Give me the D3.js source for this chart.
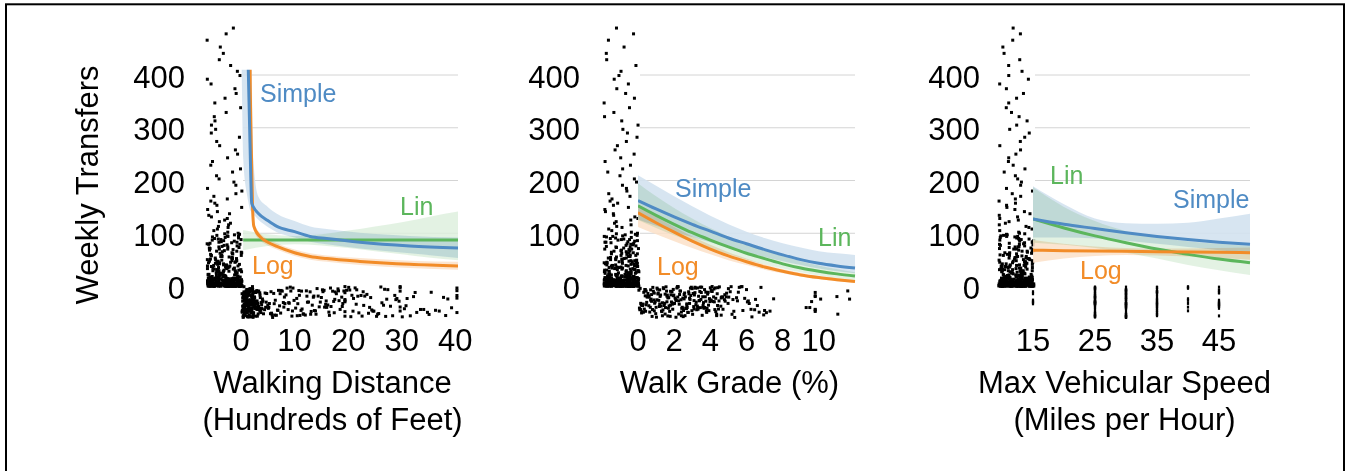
<!DOCTYPE html>
<html><head><meta charset="utf-8">
<script src="https://cdn.jsdelivr.net/npm/d3@7"></script>
<style>
html,body{margin:0;padding:0;background:#fff;}
svg{display:block;font-family:"Liberation Sans",Arial,Helvetica,sans-serif;}
</style></head><body>
<svg id="chart" width="1347" height="471"></svg>
<script>
// ---------------- DATA ----------------
const yTickValues = [0, 100, 200, 300, 400];

// marginal observations: weekly transfers (left strips)
const weeklyTransfers = [
  0,0,0,0,0,0,0,0,0,0,0,0,0,0,0,0,0,0,0,0,0,0,0,0,0,0,
  1,1,1,1,1,1,1,1,1,2,2,2,2,2,2,2,2,2,3,3,3,3,3,3,3,3,
  4,4,4,4,4,4,4,5,5,5,5,5,5,5,6,6,6,6,6,6,7,7,7,7,7,7,
  8,8,8,8,8,9,9,9,9,9,10,10,10,10,10,11,11,11,11,12,12,12,12,13,13,13,14,14,14,15,15,15,16,16,17,17,
  18,18,19,19,20,20,21,21,22,22,23,24,24,25,25,26,27,27,28,29,29,30,31,31,32,33,34,34,35,36,37,38,38,39,40,41,42,43,44,44,45,46,47,48,49,50,
  51,52,53,55,56,57,58,60,61,62,63,65,66,67,69,70,71,73,74,76,77,79,80,82,83,85,86,88,89,91,92,94,95,97,98,100,
  0,0,0,0,0,0,0,0,0,0,1,1,1,2,2,2,3,3,3,4,4,5,5,6,6,7,7,8,8,9,10,11,12,13,14,15,16,18,20,22,23,26,28,30,32,33,35,37,39,41,43,45,47,52,54,59,64,68,72,75,78,81,84,87,90,93,96,99,
  0,0,0,0,0,0,0,0,0,0,0,0,0,0,0,1,1,1,1,1,1,2,2,2,2,2,2,3,3,3,3,3,3,4,4,4,4,4,5,5,5,5,5,6,6,6,6,6,
  7,7,7,7,8,8,8,8,9,9,9,9,10,10,10,10,11,11,11,12,12,12,13,13,13,14,14,14,15,15,15,16,16,17,17,
  19,21,23,25,27,29,31,34,36,38,40,42,46,48,50,53,56,58,61,63,66,70,74,79,83,88,94,
  102,105,108,111,113,116,119,122,125,128,131,134,137,141,145,149,153,157,161,165,170,175,180,185,191,197,
  203,209,216,222,229,236,243,250,258,266,274,282,290,297,
  305,313,321,329,338,347,356,365,374,383,392,399,
  407,418,429,441,453,466,478,489
];

// marginal observations: walking distance (hundreds of feet)
const walkDistance = [
  0.2,0.24,0.3,0.33,0.4,0.44,0.5,0.56,0.6,0.63,0.7,0.75,0.8,0.84,0.9,0.96,1.0,1.05,1.1,1.13,1.2,1.26,1.3,1.34,1.4,1.47,1.5,1.55,1.6,1.66,1.7,1.73,1.8,1.86,1.9,1.94,2.0,2.06,2.1,2.15,2.2,2.27,2.3,2.36,2.4,2.45,2.5,2.57,2.6,2.66,2.7,2.8,2.9,3.0,3.1,3.2,3.3,3.45,3.5,3.6,3.7,3.85,3.9,4.0,
  0.35,0.65,0.95,1.25,1.45,1.75,2.05,2.35,0.55,1.15,1.65,2.25,0.28,0.48,0.78,0.88,1.08,1.38,1.58,1.78,1.98,2.18,2.48,2.68,
  0.42,0.72,1.02,1.32,1.62,1.92,2.12,2.42,2.62,2.85,3.05,3.25,
  0.22,0.31,0.37,0.46,0.52,0.58,0.67,0.71,0.82,0.86,0.93,0.98,1.03,1.07,1.17,1.22,1.28,1.36,1.42,1.52,1.57,1.68,1.72,1.83,1.88,1.96,2.02,2.08,2.14,2.23,2.32,2.38,2.52,2.55,2.75,2.95,3.15,3.35,3.55,3.75,3.95,
  0.26,0.39,0.53,0.61,0.69,0.77,0.91,1.01,1.11,1.19,1.31,1.39,1.49,1.61,1.69,1.81,1.91,2.01,2.11,2.21,2.31,2.41,2.51,2.61,2.71,2.91,3.11,3.31,3.51,3.71,
  4.2,4.5,4.8,5.0,5.3,5.5,5.9,6.1,6.4,6.8,7.0,7.3,7.7,8.0,8.2,8.6,9.0,9.3,9.5,9.9,
  10.2,10.5,10.8,11.0,11.4,11.7,12.0,12.3,12.6,13.0,13.3,13.5,13.9,14.2,14.6,15.0,15.3,15.5,15.9,16.2,16.5,16.8,17.1,17.5,17.8,18.1,18.5,18.8,19.2,
  19.4,19.4,19.4,19.4,19.4,19.7,20.1,20.5,20.9,21.3,21.6,22.0,22.4,22.8,23.1,23.5,24.0,24.4,24.8,25.3,25.7,26.1,26.6,27.0,27.4,27.9,28.3,28.7,29.1,29.5,
  29.7,29.7,29.7,30.1,30.5,31.0,31.6,32.2,32.8,33.5,34.1,34.8,35.5,36.3,37.0,37.8,38.6,39.3,
  5.6,7.5,8.8,11.2,13.7,16.0,17.3,21.0,23.8,26.3,
  4.4,4.7,5.2,5.8,6.3,6.6,7.2,7.9,8.4,9.2,9.7,10.4,10.9,11.6,12.2,12.9,13.6,14.4,15.2,15.8,16.7,17.6,18.3,19.0,20.3,21.8,22.6,24.2,25.5,27.2,28.9,30.8,32.5,35.1,38.2,
  4.1,4.6,5.1,5.7,6.2,6.9,7.4,8.1,8.9,9.6,10.6,11.3,12.4,13.1,14.0,14.8,15.6,16.4,17.4,18.2,18.9,19.4,19.4,20.7,21.5,22.9,24.6,26.8,29.7,29.7,
  40.3,40.3,40.3,40.3,40.3
];

// marginal observations: walk grade (%)
const walkGrade = [
  0.05,0.1,0.15,0.2,0.25,0.3,0.35,0.4,0.45,0.5,0.55,0.6,0.65,0.7,0.75,0.8,0.85,0.9,0.95,1.0,
  1.05,1.1,1.15,1.2,1.25,1.3,1.35,1.4,1.45,1.5,1.55,1.6,1.65,1.7,1.75,1.8,1.85,1.9,1.95,2.0,
  2.05,2.1,2.15,2.2,2.25,2.3,2.35,2.4,2.45,2.5,2.55,2.6,2.65,2.7,2.75,2.8,2.85,2.9,2.95,3.0,
  3.05,3.1,3.15,3.2,3.25,3.3,3.35,3.4,3.45,3.5,3.55,3.6,3.65,3.7,3.75,3.8,3.85,3.9,3.95,4.0,
  4.05,4.1,4.15,4.2,4.25,4.3,4.35,4.4,4.45,4.5,4.6,4.7,4.8,4.9,5.0,5.1,5.2,
  0.4,1.2,1.8,2.2,2.7,3.3,4.1,4.6,0.7,1.5,2.4,3.6,4.3,0.9,1.6,2.5,3.1,
  0.12,0.22,0.32,0.42,0.52,0.62,0.72,0.82,0.92,1.02,1.12,1.22,1.32,1.42,1.52,1.62,1.72,1.82,1.92,2.02,
  2.12,2.22,2.32,2.42,2.52,2.62,2.72,2.82,2.92,3.02,3.12,3.22,3.32,3.42,3.52,3.62,3.72,3.82,3.92,4.02,
  4.22,4.42,4.62,4.82,5.02,5.25,5.45,5.8,6.1,6.5,
  0.08,0.18,0.28,0.38,0.48,0.58,0.68,0.78,0.88,0.98,1.08,1.18,1.28,1.38,1.48,1.58,1.68,1.78,1.88,1.98,
  2.08,2.18,2.28,2.38,2.48,2.58,2.68,2.78,2.88,2.98,3.08,3.18,3.28,3.38,3.48,3.58,3.68,3.78,3.88,3.98,
  4.08,4.18,4.28,4.38,4.48,4.58,4.68,4.78,4.88,4.98,5.15,5.3,5.55,5.7,6.05,6.25,6.7,7.0,
  0.15,0.45,0.75,1.05,1.35,1.65,1.95,2.25,2.55,2.85,3.15,3.45,3.75,4.05,4.35,
  5.35,5.5,5.6,5.75,5.9,6.0,6.15,6.3,6.45,6.6,6.8,6.95,7.1,7.3,7.5,
  9.3,9.5,9.6,9.8,9.8,9.8,9.8,9.8,9.8,10.1,
  11.0,11.05,11.6,11.7
];

// marginal observations: max vehicular speed (mph)
const speedLevels = [15, 25, 30, 35, 40, 45];
const speedCounts = [6, 50, 50, 28, 8, 16];

// ---- fitted curves, panel 1: walking distance ----
const distSimpleX  = [0.13, 0.43, 1.06, 1.36, 1.68, 2.0, 2.3, 3.2, 5, 6.7, 10, 12.9, 16, 22.2, 31.5, 40.5];
const distSimple   = [900, 800, 560, 410, 271, 157, 150, 138, 124, 113, 103, 94, 90, 83, 76, 72];
const distSimpleHi = [1200, 1100, 1000, 900, 700, 410, 240, 170, 150, 137, 123, 113, 108, 101, 95, 92];
const distSimpleLo = [410, 240, 177, 160, 144, 140, 136, 126, 112, 102, 92, 84, 79, 71, 62, 53];

const distLinX  = [0.4, 5, 10, 15, 20, 25, 30, 35, 40.5];
const distLin   = [87, 87, 87, 87, 87, 87, 87, 87, 87];
const distLinHi = [106, 98, 95, 98, 105, 113, 121, 131, 141];
const distLinLo = [68, 76, 79, 77, 72, 66, 60, 54, 49];

const distLogX  = [1.5, 1.7, 1.95, 2.15, 2.4, 3.5, 5, 6.7, 10, 12.9, 16, 22.2, 31.5, 40.5];
const distLog   = [700, 410, 250, 151, 113, 94, 83, 75, 63, 56, 52, 46.6, 41, 38];
const distLogHi = [800, 500, 290, 170, 122, 101, 89, 81, 69, 62, 58, 53, 48, 46];
const distLogLo = [600, 360, 215, 135, 105, 87, 77, 69, 57, 50, 46, 40, 34, 31];

// ---- fitted curves, panel 2: walk grade ----
const gradeX        = [0, 1, 2, 3, 4, 5, 6, 7, 8, 9, 10, 11, 12];
const gradeSimple   = [162, 146, 131, 117, 104, 91, 80, 69, 59, 50, 43, 38, 34];
const gradeSimpleHi = [210, 190, 170, 151, 133, 117, 103, 91, 81, 73, 66, 62, 59];
const gradeSimpleLo = [126, 114, 103, 93, 83, 73, 64, 55, 47, 40, 33, 28, 24];
const gradeLin      = [152, 134, 117, 101, 87, 74, 62, 52, 42, 34, 28, 23, 19];
const gradeLinHi    = [195, 170, 148, 128, 110, 94, 80, 68, 57, 47, 39, 32, 26];
const gradeLinLo    = [125, 110, 96, 83, 71, 60, 50, 41, 33, 26, 20, 15, 11];
const gradeLog      = [139, 120, 102, 85, 70, 57, 46, 36, 28, 21, 16, 12, 8.5];
const gradeLogHi    = [152, 131, 112, 94, 78, 64, 52, 41, 32, 25, 19, 15, 11];
const gradeLogLo    = [112, 98, 85, 72, 60, 49, 40, 31, 24, 18, 13, 9, 6];

// ---- fitted curves, panel 3: max vehicular speed ----
const speedX        = [15, 20, 25, 30, 35, 40, 45, 50];
const speedSimple   = [127, 117, 109, 101, 94, 88, 83, 79];
const speedSimpleHi = [189, 155, 128, 119, 118, 120, 128, 137];
const speedSimpleLo = [92, 92, 90, 86, 80, 74, 68, 62];
const speedLin      = [127, 110, 95, 82, 70, 60, 51, 44];
const speedLinHi    = [187, 150, 123, 104, 92, 85, 80, 76];
const speedLinLo    = [82, 78, 72, 63, 52, 40, 30, 21];
const speedLog      = [68, 67, 66.5, 66, 65, 64.5, 64, 63];
const speedLogHi    = [87, 80, 75, 72, 71, 71, 72, 73];
const speedLogLo    = [44, 52, 57, 59, 58, 56, 53, 50];

// axis text
const seriesNames = ["Simple", "Lin", "Log"];
const xLabels = [
  ["Walking Distance", "(Hundreds of Feet)"],
  ["Walk Grade (%)"],
  ["Max Vehicular Speed", "(Miles per Hour)"]
];
const xTicks = [[0, 10, 20, 30, 40], [0, 2, 4, 6, 8, 10], [15, 25, 35, 45]];
const xDomains = [[0, 40.5], [0, 12], [15, 50]];
const yLabel = "Weekly Transfers";

// ---------------- STYLE / LAYOUT ----------------
const colors = { Simple: "#4f8bc4", Lin: "#5cb65c", Log: "#f28c28" };
const bandFill = { Simple: "#d3e2f0", Lin: "#dcefdc", Log: "#fce1c8" };
const bandOpacity = { Simple: 0.9, Lin: 0.8, Log: 0.85 };
const layout = [
  { x0: 241, x1: 458, tickRight: 185,
    labels: { Simple: [260, 102], Lin: [400, 215], Log: [252, 274] } },
  { x0: 638, x1: 855, tickRight: 580,
    labels: { Simple: [675, 197], Lin: [818, 246], Log: [657, 275] } },
  { x0: 1033, x1: 1250, tickRight: 980,
    labels: { Lin: [1050, 184], Simple: [1173, 208], Log: [1080, 279] } }
];
const FONT = 31, SFONT = 25;
const yTop = 75, yZero = 286; // pixel rows of 400 and 0
const stripY = [285, 319];

const svg = d3.select("#chart");
svg.append("rect").attr("x", 0).attr("y", 0).attr("width", 1347).attr("height", 471).attr("fill", "#fff");
svg.append("rect").attr("x", 6).attr("y", 4.3).attr("width", 1338).attr("height", 500)
  .attr("fill", "none").attr("stroke", "#000").attr("stroke-width", 2);

const y = d3.scaleLinear().domain([0, 400]).range([yZero, yTop]);
// deterministic hash used only to spread overlapping marks (jitter position)
const jit = (i, s) => { const v = Math.sin(i * 127.1 + s * 311.7) * 43758.5453; return v - Math.floor(v); };
const DOT = 3;

const panelSeries = [
  [
    { name: "Simple", x: distSimpleX, m: distSimple, lo: distSimpleLo, hi: distSimpleHi },
    { name: "Lin", x: distLinX, m: distLin, lo: distLinLo, hi: distLinHi },
    { name: "Log", x: distLogX, m: distLog, lo: distLogLo, hi: distLogHi }
  ],
  [
    { name: "Simple", x: gradeX, m: gradeSimple, lo: gradeSimpleLo, hi: gradeSimpleHi },
    { name: "Lin", x: gradeX, m: gradeLin, lo: gradeLinLo, hi: gradeLinHi },
    { name: "Log", x: gradeX, m: gradeLog, lo: gradeLogLo, hi: gradeLogHi }
  ],
  [
    { name: "Simple", x: speedX, m: speedSimple, lo: speedSimpleLo, hi: speedSimpleHi },
    { name: "Lin", x: speedX, m: speedLin, lo: speedLinLo, hi: speedLinHi },
    { name: "Log", x: speedX, m: speedLog, lo: speedLogLo, hi: speedLogHi }
  ]
];

const speedObs = [];
speedLevels.forEach((v, k) => { for (let j = 0; j < speedCounts[k]; j++) speedObs.push(v); });
const bottomObs = [walkDistance, walkGrade, speedObs];

svg.append("text")
  .attr("transform", `translate(98,185) rotate(-90)`)
  .attr("text-anchor", "middle").attr("font-size", FONT).attr("fill", "#000")
  .text(yLabel);

layout.forEach((L, p) => {
  const g = svg.append("g");
  const x = d3.scaleLinear().domain(xDomains[p]).range([L.x0, L.x1]);
  const stripL = L.x0 - 34, stripR = L.x0 + 1;

  g.selectAll(".grid").data(yTickValues.filter(v => v > 0)).join("line")
    .attr("x1", L.x0 + 2).attr("x2", L.x1)
    .attr("y1", d => y(d)).attr("y2", d => y(d))
    .attr("stroke", "#d4d4d4").attr("stroke-width", 1);

  g.selectAll(".yt").data(yTickValues).join("text")
    .attr("x", L.tickRight).attr("y", d => y(d) + 12.5)
    .attr("text-anchor", "end").attr("font-size", FONT).attr("fill", "#000")
    .text(d => d);

  g.selectAll(".xt").data(xTicks[p]).join("text")
    .attr("x", d => x(d)).attr("y", 351)
    .attr("text-anchor", "middle").attr("font-size", FONT).attr("fill", "#000")
    .text(d => d);

  const cx = (stripL + L.x1) / 2;
  xLabels[p].forEach((t, k) => {
    g.append("text").attr("x", cx).attr("y", 393 + k * 37)
      .attr("text-anchor", "middle").attr("font-size", FONT).attr("fill", "#000").text(t);
  });

  // left strip of weekly transfers
  g.selectAll(".ls").data(weeklyTransfers).join("rect")
    .attr("x", (d, i) => stripL + jit(i, p + 1) * (stripR - stripL) - DOT / 2)
    .attr("y", d => y(d) - DOT / 2)
    .attr("width", DOT).attr("height", DOT).attr("fill", "#000");

  // bottom strip
  g.selectAll(".bs").data(bottomObs[p]).join("rect")
    .attr("x", d => x(d) - (p === 2 ? 1.1 : DOT / 2))
    .attr("y", (d, i) => stripY[0] + 1.5 + jit(i, p + 7) * (stripY[1] - stripY[0] - 3) - DOT / 2)
    .attr("width", p === 2 ? 2.2 : DOT).attr("height", DOT).attr("fill", "#000");

  const clipId = "clip" + p;
  svg.append("clipPath").attr("id", clipId).append("rect")
    .attr("x", L.x0).attr("y", y(410)).attr("width", L.x1 - L.x0 + 1).attr("height", y(0) - y(410) + 2);
  const cg = g.append("g").attr("clip-path", `url(#${clipId})`);

  const series = panelSeries[p];
  series.forEach(s => {
    const pts = s.x.map((xv, i) => ({ x: xv, lo: s.lo[i], hi: s.hi[i] }));
    const area = d3.area().curve(d3.curveMonotoneX)
      .x(d => x(d.x)).y0(d => y(d.lo)).y1(d => y(d.hi));
    cg.append("path").datum(pts).attr("d", area)
      .attr("fill", bandFill[s.name]).attr("fill-opacity", bandOpacity[s.name])
      .style("mix-blend-mode", "multiply");
  });
  ["Lin", "Log", "Simple"].forEach(nm => {
    const s = series.find(q => q.name === nm);
    const pts = s.x.map((xv, i) => ({ x: xv, m: s.m[i] }));
    const line = d3.line().curve(d3.curveMonotoneX).x(d => x(d.x)).y(d => y(d.m));
    cg.append("path").datum(pts).attr("d", line)
      .attr("fill", "none").attr("stroke", colors[nm]).attr("stroke-width", 3);
  });

  seriesNames.forEach(nm => {
    const pos = L.labels[nm];
    g.append("text").attr("x", pos[0]).attr("y", pos[1])
      .attr("font-size", SFONT).attr("fill", colors[nm]).text(nm);
  });
});
</script>
</body></html>
